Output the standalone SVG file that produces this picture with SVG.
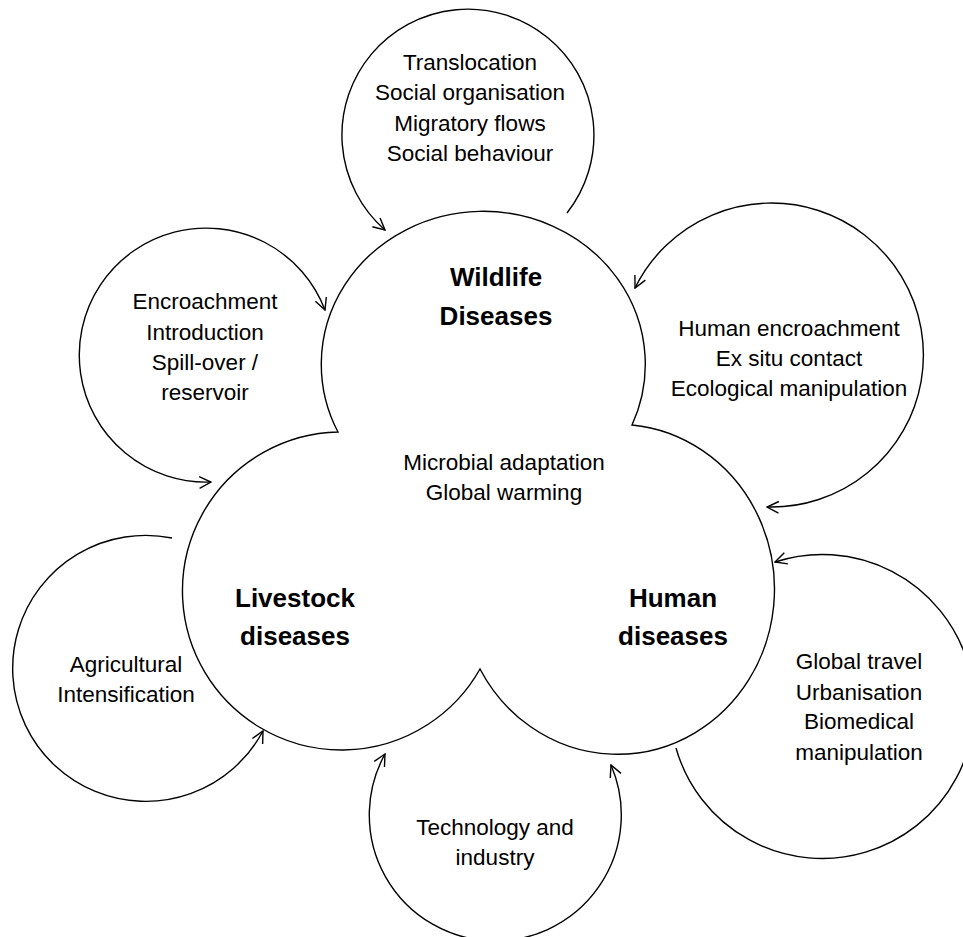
<svg xmlns="http://www.w3.org/2000/svg" width="963" height="937" viewBox="0 0 963 937">
<style>
  .bg { fill: #ffffff; }
  .line { fill: none; stroke: #000000; stroke-width: 1.4; }
  .t { font-family: "Liberation Sans", Arial, sans-serif; font-size: 22.5px; fill: #000000; text-anchor: middle; }
  .b { font-family: "Liberation Sans", Arial, sans-serif; font-size: 26px; font-weight: bold; fill: #000000; text-anchor: middle; }
</style>
<defs>
  <marker id="arrow" markerUnits="userSpaceOnUse" markerWidth="14" markerHeight="14" viewBox="0 0 12 12" refX="11" refY="6" orient="auto-start-reverse">
    <path d="M1,1 L11,6 L1,11" fill="none" stroke="#000000" stroke-width="1.2"/>
  </marker>
</defs>
<rect class="bg" x="0" y="0" width="963" height="937"/>

<g id="connectors">
  <path id="arc-wildlife-behaviour" class="line" d="M 567 213 A 126 126 0 1 0 385 230" marker-end="url(#arrow)"/>
  <path id="arc-encroachment" class="line" d="M 325 310 A 127 127 0 1 0 211 482" marker-start="url(#arrow)" marker-end="url(#arrow)"/>
  <path id="arc-human-encroachment" class="line" d="M 635 288 A 152 152 0 1 1 767 507" marker-start="url(#arrow)" marker-end="url(#arrow)"/>
  <path id="arc-global-travel" class="line" d="M 676 748 A 152 152 0 1 0 775 562" marker-end="url(#arrow)"/>
  <path id="arc-agricultural" class="line" d="M 172 538 A 133 133 0 1 0 263 731" marker-end="url(#arrow)"/>
  <path id="arc-technology" class="line" d="M 385 754 A 126 126 0 1 0 611 765" marker-start="url(#arrow)" marker-end="url(#arrow)"/>
</g>

<g id="disease-cloud">
  <path class="line" d="M 338 432 A 162 153 0 1 1 632 425 A 157 165 0 1 1 480 669 A 159 159 0 1 1 338 432 Z"/>
</g>

<g id="wildlife-diseases">
  <text class="b" x="496" y="286">Wildlife</text>
  <text class="b" x="496" y="325">Diseases</text>
</g>

<g id="livestock-diseases">
  <text class="b" x="295" y="607">Livestock</text>
  <text class="b" x="295" y="645">diseases</text>
</g>

<g id="human-diseases">
  <text class="b" x="673" y="607">Human</text>
  <text class="b" x="673" y="645">diseases</text>
</g>

<g id="shared-drivers">
  <text class="t" x="504" y="470">Microbial adaptation</text>
  <text class="t" x="504" y="500">Global warming</text>
</g>

<g id="wildlife-behaviour">
  <text class="t" x="470" y="70">Translocation</text>
  <text class="t" x="470" y="100">Social organisation</text>
  <text class="t" x="470" y="131">Migratory flows</text>
  <text class="t" x="470" y="161">Social behaviour</text>
</g>

<g id="encroachment">
  <text class="t" x="205" y="309">Encroachment</text>
  <text class="t" x="205" y="340">Introduction</text>
  <text class="t" x="205" y="370">Spill-over /</text>
  <text class="t" x="205" y="400">reservoir</text>
</g>

<g id="human-encroachment">
  <text class="t" x="789" y="336">Human encroachment</text>
  <text class="t" x="789" y="366">Ex situ contact</text>
  <text class="t" x="789" y="396">Ecological manipulation</text>
</g>

<g id="agricultural">
  <text class="t" x="126" y="672">Agricultural</text>
  <text class="t" x="126" y="702">Intensification</text>
</g>

<g id="global-travel">
  <text class="t" x="859" y="669">Global travel</text>
  <text class="t" x="859" y="700">Urbanisation</text>
  <text class="t" x="859" y="729">Biomedical</text>
  <text class="t" x="859" y="760">manipulation</text>
</g>

<g id="technology">
  <text class="t" x="495" y="835">Technology and</text>
  <text class="t" x="495" y="865">industry</text>
</g>
</svg>
